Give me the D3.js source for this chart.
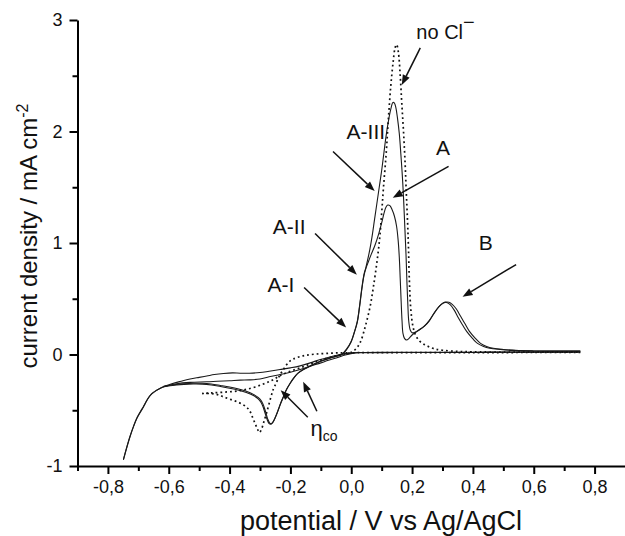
<!DOCTYPE html>
<html>
<head>
<meta charset="utf-8">
<script src="https://cdn.jsdelivr.net/npm/d3@7"></script>
<style>
  html, body { margin: 0; padding: 0; background: #fff; }
  svg { display: block; }
  text { font-family: "Liberation Sans", Arial, sans-serif; fill: #111; }
</style>
</head>
<body>
<svg id="chart" width="625" height="536"></svg>
<script>
// Cyclic voltammograms: [potential (V vs Ag/AgCl), current density (mA cm^-2)]

// with Cl-, scan 1: forward sweep (shoulders A-I, A-II, peak A-III, peak B)
const clScan1Forward = [
  [-0.749,-0.94],[-0.738,-0.83],[-0.727,-0.73],[-0.716,-0.645],[-0.705,-0.57],[-0.694,-0.515],
  [-0.684,-0.47],[-0.673,-0.415],[-0.662,-0.37],[-0.651,-0.34],[-0.64,-0.32],[-0.628,-0.302],
  [-0.618,-0.29],[-0.596,-0.276],[-0.574,-0.268],[-0.55,-0.262],[-0.52,-0.258],[-0.49,-0.258],
  [-0.46,-0.265],[-0.43,-0.278],[-0.4,-0.292],[-0.37,-0.31],[-0.345,-0.33],[-0.32,-0.36],
  [-0.3,-0.40],[-0.29,-0.445],[-0.282,-0.51],[-0.275,-0.575],[-0.268,-0.615],[-0.262,-0.62],
  [-0.256,-0.6],[-0.248,-0.555],[-0.24,-0.5],[-0.232,-0.44],[-0.223,-0.38],[-0.212,-0.31],
  [-0.2,-0.255],[-0.187,-0.205],[-0.174,-0.165],[-0.155,-0.13],[-0.13,-0.095],[-0.102,-0.06],
  [-0.075,-0.035],[-0.05,-0.015],[-0.03,0.005],[-0.015,0.05],[0.0,0.12],[0.01,0.2],[0.02,0.3],
  [0.028,0.45],[0.035,0.6],[0.042,0.72],[0.048,0.78],[0.054,0.85],[0.061,0.94],[0.068,1.05],
  [0.076,1.2],[0.084,1.35],[0.092,1.5],[0.1,1.65],[0.107,1.8],[0.114,1.95],[0.122,2.09],
  [0.13,2.2],[0.137,2.26],[0.142,2.255],[0.147,2.21],[0.152,2.12],[0.158,1.98],[0.163,1.8],
  [0.168,1.6],[0.172,1.4],[0.176,1.15],[0.18,0.9],[0.183,0.65],[0.186,0.45],[0.189,0.3],
  [0.194,0.22],[0.2,0.195],[0.21,0.2],[0.222,0.22],[0.238,0.25],[0.255,0.3],[0.27,0.36],
  [0.284,0.415],[0.296,0.45],[0.307,0.468],[0.316,0.465],[0.326,0.445],[0.338,0.4],
  [0.352,0.33],[0.366,0.265],[0.38,0.205],[0.4,0.14],[0.415,0.1],[0.435,0.072],[0.455,0.056],
  [0.49,0.045],[0.53,0.037],[0.6,0.032],[0.68,0.03],[0.753,0.03]
];

// with Cl-, scan 1: reverse sweep
const clScan1Reverse = [
  [0.753,0.025],[0.7,0.022],[0.6,0.022],[0.5,0.022],[0.4,0.02],[0.3,0.02],[0.2,0.02],
  [0.1,0.02],[0.03,0.018],[0.0,0.015],[-0.037,0.0],[-0.07,-0.022],[-0.102,-0.045],
  [-0.135,-0.075],[-0.168,-0.102],[-0.2,-0.12],[-0.234,-0.135],[-0.27,-0.15],[-0.3,-0.162],
  [-0.335,-0.168],[-0.365,-0.168],[-0.39,-0.165],[-0.42,-0.17],[-0.45,-0.18],[-0.475,-0.193],
  [-0.5,-0.205],[-0.53,-0.22],[-0.56,-0.24],[-0.59,-0.262],[-0.618,-0.288]
];

// with Cl-, scan 2: forward sweep (peak A, peak B)
const clScan2Forward = [
  [-0.749,-0.945],[-0.727,-0.735],[-0.705,-0.575],[-0.684,-0.475],[-0.662,-0.372],
  [-0.64,-0.322],[-0.618,-0.292],[-0.596,-0.28],[-0.574,-0.273],[-0.55,-0.268],[-0.52,-0.265],
  [-0.49,-0.266],[-0.46,-0.274],[-0.43,-0.287],[-0.4,-0.302],[-0.37,-0.32],[-0.345,-0.34],
  [-0.32,-0.37],[-0.302,-0.41],[-0.292,-0.455],[-0.284,-0.52],[-0.277,-0.58],[-0.27,-0.62],
  [-0.264,-0.625],[-0.258,-0.61],[-0.25,-0.565],[-0.242,-0.51],[-0.234,-0.45],[-0.225,-0.39],
  [-0.214,-0.32],[-0.202,-0.262],[-0.189,-0.21],[-0.176,-0.17],[-0.157,-0.135],[-0.13,-0.098],
  [-0.102,-0.063],[-0.075,-0.037],[-0.05,-0.017],[-0.03,0.0],[-0.015,0.045],[0.0,0.115],
  [0.01,0.195],[0.02,0.29],[0.028,0.44],[0.035,0.59],[0.042,0.71],[0.048,0.77],[0.056,0.83],
  [0.066,0.9],[0.078,0.98],[0.09,1.08],[0.1,1.18],[0.108,1.27],[0.114,1.32],[0.12,1.34],
  [0.127,1.335],[0.134,1.3],[0.142,1.24],[0.149,1.15],[0.154,1.03],[0.158,0.87],[0.161,0.68],
  [0.164,0.48],[0.167,0.3],[0.17,0.19],[0.175,0.145],[0.182,0.13],[0.19,0.145],[0.2,0.175],
  [0.212,0.2],[0.225,0.222],[0.24,0.252],[0.256,0.3],[0.272,0.37],[0.287,0.425],[0.3,0.458],
  [0.311,0.47],[0.321,0.468],[0.332,0.45],[0.345,0.41],[0.36,0.34],[0.374,0.275],[0.388,0.21],
  [0.408,0.145],[0.425,0.1],[0.445,0.072],[0.467,0.056],[0.5,0.045],[0.54,0.037],[0.6,0.032],
  [0.68,0.03],[0.753,0.03]
];

// with Cl-, scan 2: reverse sweep
const clScan2Reverse = [
  [0.753,0.02],[0.7,0.02],[0.6,0.02],[0.5,0.02],[0.4,0.018],[0.3,0.018],[0.2,0.018],
  [0.1,0.017],[0.03,0.016],[0.007,0.012],[-0.02,-0.005],[-0.047,-0.03],[-0.075,-0.052],
  [-0.1,-0.075],[-0.135,-0.105],[-0.168,-0.135],[-0.2,-0.16],[-0.234,-0.18],[-0.27,-0.2],
  [-0.3,-0.22],[-0.335,-0.228],[-0.365,-0.23],[-0.4,-0.235],[-0.44,-0.24],[-0.475,-0.245],
  [-0.53,-0.25],[-0.574,-0.262],[-0.618,-0.288]
];

// without Cl-: forward sweep
const noClForward = [
  [-0.49,-0.35],[-0.465,-0.35],[-0.44,-0.36],[-0.42,-0.38],[-0.395,-0.405],[-0.37,-0.43],
  [-0.35,-0.46],[-0.335,-0.5],[-0.325,-0.56],[-0.316,-0.62],[-0.308,-0.67],[-0.302,-0.70],
  [-0.295,-0.67],[-0.287,-0.6],[-0.278,-0.52],[-0.266,-0.4],[-0.256,-0.31],[-0.245,-0.245],
  [-0.234,-0.18],[-0.222,-0.13],[-0.212,-0.09],[-0.2,-0.055],[-0.19,-0.04],[-0.17,-0.02],
  [-0.15,-0.008],[-0.12,0.003],[-0.08,0.01],[-0.04,0.015],[0.0,0.02],[0.015,0.05],
  [0.029,0.105],[0.046,0.25],[0.062,0.43],[0.073,0.61],[0.084,0.82],[0.093,1.03],[0.1,1.27],
  [0.106,1.5],[0.115,1.81],[0.122,2.11],[0.13,2.41],[0.138,2.63],[0.144,2.75],[0.149,2.78],
  [0.155,2.71],[0.161,2.5],[0.166,2.26],[0.172,1.99],[0.177,1.72],[0.181,1.45],[0.185,1.2],
  [0.188,0.97],[0.191,0.67],[0.196,0.4],[0.203,0.25],[0.212,0.17],[0.225,0.12],[0.24,0.09],
  [0.255,0.07],[0.275,0.05],[0.3,0.038],[0.35,0.028],[0.4,0.024],[0.5,0.022],[0.6,0.022],
  [0.7,0.022],[0.753,0.022]
];

// without Cl-: reverse sweep
const noClReverse = [
  [0.753,0.018],[0.6,0.018],[0.4,0.017],[0.2,0.017],[0.05,0.016],[0.0,0.014],[-0.03,0.0],
  [-0.06,-0.02],[-0.1,-0.05],[-0.135,-0.085],[-0.168,-0.12],[-0.2,-0.15],[-0.234,-0.19],
  [-0.26,-0.23],[-0.289,-0.265],[-0.333,-0.305],[-0.376,-0.328],[-0.42,-0.338],[-0.46,-0.345],
  [-0.49,-0.35]
];

// axis ticks
const xMajorTicks = [-0.8,-0.6,-0.4,-0.2,0.0,0.2,0.4,0.6,0.8];
const xTickLabels = ["-0,8","-0,6","-0,4","-0,2","0,0","0,2","0,4","0,6","0,8"];
const xMinorTicks = [-0.9,-0.7,-0.5,-0.3,-0.1,0.1,0.3,0.5,0.7];
const yMajorTicks = [-1,0,1,2,3];
const yTickLabels = ["-1","0","1","2","3"];
const yMinorTicks = [-0.5,0.5,1.5,2.5];

// peak annotations (label anchor, arrow tail, arrow head) in data units
const peakLabels = ["A-III","A","A-II","A-I","B"];
const peakLabelAt = [[0.048,1.93],[0.302,1.785],[-0.204,1.085],[-0.231,0.565],[0.442,0.933]];
const peakArrowFrom = [[-0.06,1.82],[0.32,1.688],[-0.119,1.085],[-0.155,0.601],[0.542,0.807]];
const peakArrowTo = [[0.077,1.466],[0.1365,1.405],[0.0184,0.716],[-0.0168,0.242],[0.366,0.517]];
const noClLabelAt = [0.214,2.834];
const noClArrow = [[0.227,2.75],[0.166,2.417]];
const etaLabelAt = [-0.134,-0.728];
const etaArrows = [[[-0.143,-0.562],[-0.232,-0.32]],[[-0.113,-0.509],[-0.158,-0.245]]];

const svg = d3.select("#chart");
const x = d3.scaleLinear().domain([-0.9, 0.9]).range([77.5, 625]);
const y = d3.scaleLinear().domain([-1, 3]).range([466, 20]);

const line = d3.line()
  .x(d => x(d[0]))
  .y(d => y(d[1]))
  .curve(d3.curveCatmullRom.alpha(0.5));

const curves = svg.append("g").attr("fill", "none");
const solid = [clScan1Forward, clScan1Reverse, clScan2Forward, clScan2Reverse];
curves.selectAll("path.solid").data(solid).join("path")
  .attr("class", "solid")
  .attr("d", line)
  .attr("stroke", "#1a1a1a")
  .attr("stroke-width", 1.1)
  .attr("stroke-linejoin", "round");

curves.selectAll("path.dotted").data([noClForward, noClReverse]).join("path")
  .attr("class", "dotted")
  .attr("d", line)
  .attr("stroke", "#111")
  .attr("stroke-width", 1.7)
  .attr("stroke-dasharray", "1.8,3");

// axes
function styleAxis(g) {
  g.selectAll("path.domain").attr("stroke", "#000").attr("stroke-width", 2);
  g.selectAll(".tick line").attr("stroke", "#000").attr("stroke-width", 2);
}

const xAxis = svg.append("g").attr("transform", `translate(0,${y(-1)})`)
  .call(d3.axisBottom(x).tickValues(xMajorTicks).tickSize(8).tickSizeOuter(0)
    .tickPadding(6).tickFormat((d, i) => xTickLabels[i]));
xAxis.call(styleAxis);
xAxis.selectAll("text").attr("font-size", 18).attr("fill", "#111")
  .style("font-family", '"Liberation Sans", Arial, sans-serif');

const xMinor = svg.append("g").attr("transform", `translate(0,${y(-1)})`)
  .call(d3.axisBottom(x).tickValues(xMinorTicks).tickSize(5).tickSizeOuter(0).tickFormat(""));
xMinor.call(styleAxis);
xMinor.select("path.domain").remove();

const yAxis = svg.append("g").attr("transform", `translate(${x(-0.9)},0)`)
  .call(d3.axisLeft(y).tickValues(yMajorTicks).tickSize(8).tickSizeOuter(0)
    .tickPadding(7).tickFormat((d, i) => yTickLabels[i]));
yAxis.call(styleAxis);
yAxis.selectAll("text").attr("font-size", 18).attr("fill", "#111")
  .style("font-family", '"Liberation Sans", Arial, sans-serif');

const yMinor = svg.append("g").attr("transform", `translate(${x(-0.9)},0)`)
  .call(d3.axisLeft(y).tickValues(yMinorTicks).tickSize(5).tickSizeOuter(0).tickFormat(""));
yMinor.call(styleAxis);
yMinor.select("path.domain").remove();

// axis titles
svg.append("text")
  .attr("x", 381).attr("y", 530)
  .attr("text-anchor", "middle").attr("font-size", 27)
  .text("potential / V vs Ag/AgCl");

const yTitle = svg.append("text")
  .attr("transform", "translate(37,236) rotate(-90)")
  .attr("text-anchor", "middle").attr("font-size", 24);
yTitle.append("tspan").text("current density / mA cm");
yTitle.append("tspan").attr("font-size", 16).attr("dy", -9).text("-2");

// arrows
function arrow(from, to) {
  const x1 = x(from[0]), y1 = y(from[1]), x2 = x(to[0]), y2 = y(to[1]);
  const a = Math.atan2(y2 - y1, x2 - x1);
  const len = 10, half = 3.8;
  const bx = x2 - len * Math.cos(a), by = y2 - len * Math.sin(a);
  svg.append("line")
    .attr("x1", x1).attr("y1", y1).attr("x2", bx).attr("y2", by)
    .attr("stroke", "#111").attr("stroke-width", 1.5);
  const px = -Math.sin(a) * half, py = Math.cos(a) * half;
  svg.append("path")
    .attr("d", `M${x2},${y2}L${bx + px},${by + py}L${bx - px},${by - py}Z`)
    .attr("fill", "#111");
}

peakLabels.forEach((t, i) => {
  svg.append("text")
    .attr("x", x(peakLabelAt[i][0])).attr("y", y(peakLabelAt[i][1]))
    .attr("text-anchor", "middle").attr("font-size", 21)
    .text(t);
  arrow(peakArrowFrom[i], peakArrowTo[i]);
});

const noCl = svg.append("text")
  .attr("x", x(noClLabelAt[0])).attr("y", y(noClLabelAt[1]))
  .attr("font-size", 20);
noCl.append("tspan").text("no Cl");
noCl.append("tspan").attr("dy", -10).text("\u2212");
arrow(noClArrow[0], noClArrow[1]);

const eta = svg.append("text")
  .attr("x", x(etaLabelAt[0])).attr("y", y(etaLabelAt[1]))
  .attr("font-size", 22);
eta.append("tspan").text("\u03b7");
eta.append("tspan").attr("font-size", 14).attr("dy", 5).text("co");
etaArrows.forEach(a => arrow(a[0], a[1]));
</script>
</body>
</html>
